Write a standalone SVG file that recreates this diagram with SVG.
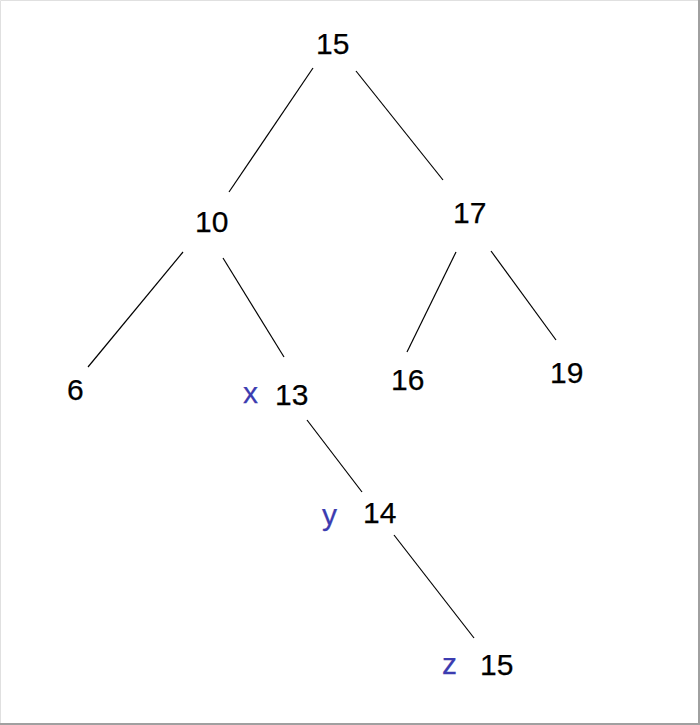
<svg xmlns="http://www.w3.org/2000/svg" width="700" height="725" viewBox="0 0 700 725">
<style>
.n{font-family:"Liberation Sans",Arial,sans-serif;font-size:30px;fill:#000;stroke:#000;stroke-width:0.25}
.l{font-family:"Liberation Sans",Arial,sans-serif;font-size:30px;fill:#3c3cb0;stroke:#3c3cb0;stroke-width:0.25}
.e line{stroke:#000;stroke-width:1.2}
</style>
<rect x="0" y="0" width="700" height="725" fill="#fff"/>
<path d="M0.5 725V0.5H700" fill="none" stroke="#e0e0e0" stroke-width="1"/>
<path d="M699 0V724H0" fill="none" stroke="#a0a0a0" stroke-width="2"/>
<g id="edges" class="e">
<line x1="313" y1="68" x2="229" y2="192"/>
<line x1="356" y1="71" x2="443" y2="180"/>
<line x1="183" y1="252" x2="88" y2="367"/>
<line x1="223" y1="258" x2="284" y2="357"/>
<line x1="456" y1="252" x2="407" y2="352"/>
<line x1="491" y1="251" x2="556" y2="340"/>
<line x1="307" y1="420" x2="362" y2="492"/>
<line x1="394" y1="535" x2="474" y2="638"/>
</g>
<g id="n15"><text class="n" x="316" y="54">15</text></g>
<g id="n10"><text class="n" x="195" y="232">10</text></g>
<g id="n17"><text class="n" x="453" y="223">17</text></g>
<g id="n6"><text class="n" x="67" y="400">6</text></g>
<g id="n13"><text class="l" x="243" y="403">x</text><text class="n" x="275" y="405">13</text></g>
<g id="n16"><text class="n" x="391" y="390">16</text></g>
<g id="n19"><text class="n" x="550" y="383">19</text></g>
<g id="n14"><text class="l" x="322" y="525">y</text><text class="n" x="363" y="523">14</text></g>
<g id="n15b"><text class="l" x="442" y="674">z</text><text class="n" x="480" y="675">15</text></g>
</svg>
